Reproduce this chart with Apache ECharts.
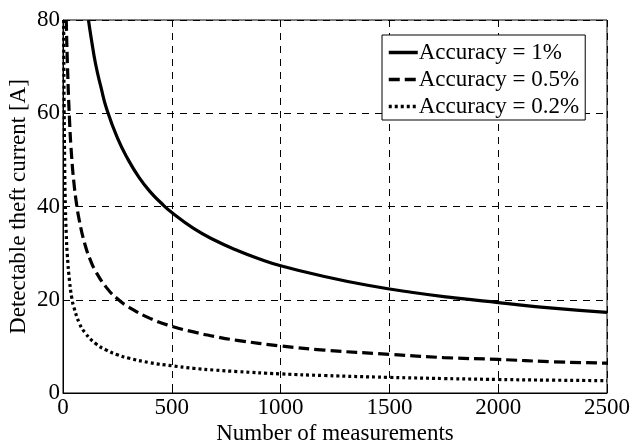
<!DOCTYPE html>
<html>
<head>
<meta charset="utf-8">
<script src="https://cdn.jsdelivr.net/npm/echarts@6/dist/echarts.min.js"></script>
<style>
  html, body { margin: 0; padding: 0; background: #fff; }
  #main { width: 631px; height: 442px; }
</style>
</head>
<body>
<div id="main"></div>
<script>
// values
const acc1X = [117, 130, 150, 175, 200, 250, 300, 350, 400, 450, 500, 600, 700, 800, 900, 1000, 1200, 1400, 1600, 1800, 2000, 2250, 2500];
const acc1Y = [80, 76, 70.5, 65.5, 61, 54.7, 50, 46.2, 43.2, 40.8, 38.7, 35.3, 32.7, 30.6, 28.8, 27.3, 25, 23.1, 21.6, 20.4, 19.4, 18.2, 17.3];

const acc05X = [15, 20, 30, 40, 50, 60, 75, 100, 125, 150, 200, 250, 300, 400, 500, 600, 700, 800, 1000, 1200, 1500, 1750, 2000, 2250, 2500];
const acc05Y = [80, 71, 58.5, 50.5, 45.2, 41.3, 37, 32, 28.6, 26.1, 22.6, 20.2, 18.5, 16, 14.3, 13.1, 12.1, 11.3, 10.1, 9.2, 8.3, 7.6, 7.2, 6.7, 6.4];

const acc02X = [3, 5, 8, 10, 15, 20, 30, 40, 50, 75, 100, 150, 200, 250, 300, 400, 500, 600, 700, 800, 1000, 1200, 1500, 1750, 2000, 2250, 2500];
const acc02Y = [80, 62, 48, 42, 34, 29.5, 24, 20.5, 18.4, 15, 13, 10.6, 9.2, 8.2, 7.5, 6.5, 5.85, 5.3, 4.9, 4.6, 4.1, 3.75, 3.35, 3.1, 2.9, 2.75, 2.65];

const seriesNames = ['Accuracy = 1%', 'Accuracy = 0.5%', 'Accuracy = 0.2%'];

const pairs = (xs, ys) => xs.map((x, i) => [x, ys[i]]);
const font = '"Liberation Serif", "Times New Roman", serif';

const chart = echarts.init(document.getElementById('main'));
chart.setOption({
  animation: false,
  backgroundColor: '#fff',
  grid: {
    left: 63, top: 20, right: 24, bottom: 49,
    outerBoundsMode: 'none',
    show: true, borderColor: '#000', borderWidth: 1
  },
  legend: {
    orient: 'vertical',
    left: 382, top: 35,
    padding: [6, 6, 2, 5],
    itemGap: 4,
    itemWidth: 29,
    itemHeight: 14,
    itemStyle: { opacity: 0 },
    lineStyle: { width: 3.5 },
    backgroundColor: '#fff',
    borderColor: '#000',
    borderWidth: 1,
    textStyle: { fontFamily: font, fontSize: 23, color: '#000', padding: [0, 0, 0, -4] },
    data: seriesNames
  },
  xAxis: {
    type: 'value',
    min: 0, max: 2500, interval: 500,
    name: 'Number of measurements',
    nameLocation: 'middle',
    nameMoveOverlap: false,
    nameGap: 29,
    nameTextStyle: { fontFamily: font, fontSize: 23, color: '#000' },
    axisLine: { show: true, lineStyle: { color: '#000' } },
    axisTick: { inside: true, length: 5, lineStyle: { color: '#000' } },
    axisLabel: { fontFamily: font, fontSize: 23, color: '#000', margin: 3, formatter: v => String(v) },
    splitLine: { show: true, lineStyle: { color: '#000', type: [7, 6], width: 1 } }
  },
  yAxis: {
    type: 'value',
    min: 0, max: 80, interval: 20,
    name: 'Detectable theft current [A]',
    nameLocation: 'middle',
    nameMoveOverlap: false,
    nameGap: 33,
    nameTextStyle: { fontFamily: font, fontSize: 23, color: '#000' },
    axisLine: { show: true, lineStyle: { color: '#000' } },
    axisTick: { inside: true, length: 5, lineStyle: { color: '#000' } },
    axisLabel: { fontFamily: font, fontSize: 23, color: '#000', margin: 3 },
    splitLine: { show: true, lineStyle: { color: '#000', type: [7, 6], width: 1 } }
  },
  series: [
    {
      name: seriesNames[0], type: 'line', smooth: true, symbol: 'none',
      lineStyle: { color: '#000', width: 3.2, type: 'solid' },
      itemStyle: { color: '#000' },
      data: pairs(acc1X, acc1Y)
    },
    {
      name: seriesNames[1], type: 'line', smooth: true, symbol: 'none',
      lineStyle: { color: '#000', width: 3.2, type: [11, 5] },
      itemStyle: { color: '#000' },
      data: pairs(acc05X, acc05Y)
    },
    {
      name: seriesNames[2], type: 'line', smooth: true, symbol: 'none',
      lineStyle: { color: '#000', width: 3.2, type: [3, 3] },
      itemStyle: { color: '#000' },
      data: pairs(acc02X, acc02Y)
    }
  ]
});
</script>
</body>
</html>
